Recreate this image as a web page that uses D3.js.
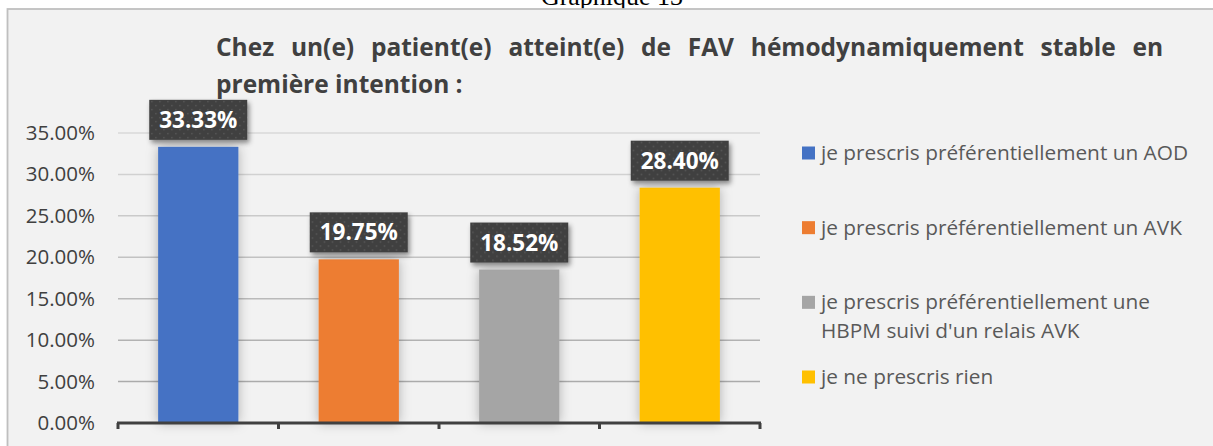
<!DOCTYPE html>
<html>
<head>
<meta charset="utf-8">
<script src="https://cdn.jsdelivr.net/npm/d3@7"></script>
<style>
    html, body { margin: 0; padding: 0; background: #ffffff; }
    svg { display: block; font-family: "Open Sans", sans-serif; }
</style>
</head>
<body>
<div class="chart"></div>
<script>
/* Graphique 13 - bar chart */

var categories = [
    "je prescris préférentiellement un AOD",
    "je prescris préférentiellement un AVK",
    "je prescris préférentiellement une HBPM suivi d'un relais AVK",
    "je ne prescris rien"
];
var values = [0.3333, 0.1975, 0.1852, 0.2840];
var colors = ["#4472c4", "#ed7d31", "#a5a5a5", "#ffc000"];
var yTicks = [0, 0.05, 0.10, 0.15, 0.20, 0.25, 0.30, 0.35];
var titleLines = [
    "Chez un(e) patient(e) atteint(e) de FAV hémodynamiquement stable en",
    "première intention :"
];
var captionText = "Graphique 13";

document.addEventListener("DOMContentLoaded", function () {
    //Width and height
    var w = 1213;
    var h = 446;

    var svg = d3.select(".chart")
        .append("svg")
        .attr("width", w)
        .attr("height", h);

    var defs = svg.append("defs");

    // soft glow around the bars
    var barShadow = defs.append("filter")
        .attr("id", "barShadow")
        .attr("x", "-40%").attr("y", "-10%")
        .attr("width", "180%").attr("height", "120%");
    barShadow.append("feDropShadow")
        .attr("dx", 0).attr("dy", 0)
        .attr("stdDeviation", 6)
        .attr("flood-color", "#000")
        .attr("flood-opacity", 0.28);

    // shadow of the label boxes
    var boxShadow = defs.append("filter")
        .attr("id", "boxShadow")
        .attr("x", "-20%").attr("y", "-30%")
        .attr("width", "150%").attr("height", "170%");
    boxShadow.append("feDropShadow")
        .attr("dx", 2).attr("dy", 3)
        .attr("stdDeviation", 2.5)
        .attr("flood-color", "#000")
        .attr("flood-opacity", 0.45);

    // dotted texture of the label boxes
    var dots = defs.append("pattern")
        .attr("id", "dots")
        .attr("patternUnits", "userSpaceOnUse")
        .attr("width", 8).attr("height", 8);
    dots.append("rect").attr("width", 8).attr("height", 8).attr("fill", "#404040");
    dots.append("rect").attr("x", 1).attr("y", 1).attr("width", 1.4).attr("height", 1.4).attr("fill", "#5c5c5c");
    dots.append("rect").attr("x", 5).attr("y", 5).attr("width", 1.4).attr("height", 1.4).attr("fill", "#5c5c5c");

    // caption above the frame (cut off)
    svg.append("text")
        .attr("x", 612)
        .attr("y", 5)
        .attr("text-anchor", "middle")
        .style("font-family", "'Liberation Serif', serif")
        .style("font-size", "26px")
        .attr("fill", "#000")
        .text(captionText);

    // chart frame
    svg.append("rect")
        .attr("x", 7.5)
        .attr("y", 9)
        .attr("width", w + 20)
        .attr("height", h + 20)
        .attr("fill", "#f2f2f2")
        .attr("stroke", "#bfbfbf")
        .attr("stroke-width", 1.8);

    //Scales
    var x = d3.scaleBand()
        .domain(categories)
        .range([118, 760])
        .paddingInner(0.5)
        .paddingOuter(0.25);

    var y = d3.scaleLinear()
        .domain([0, 0.35])
        .range([423, 133]);

    var gridColor = d3.scaleLinear()
        .domain([0, 0.35])
        .range(["#a3a3a3", "#d9d9d9"]);

    // gridlines
    svg.append("g")
        .selectAll("line")
        .data(yTicks.slice(1))
        .enter()
        .append("line")
        .attr("x1", 118)
        .attr("x2", 760)
        .attr("y1", function (d) { return y(d); })
        .attr("y2", function (d) { return y(d); })
        .attr("stroke", function (d) { return gridColor(d); })
        .attr("stroke-width", 1.5);

    // y axis labels
    var yAxis = d3.axisLeft(y)
        .tickValues(yTicks)
        .tickFormat(d3.format(".2%"))
        .tickSize(0)
        .tickPadding(0);
    var yG = svg.append("g")
        .attr("transform", "translate(95,0)")
        .call(yAxis);
    yG.select(".domain").remove();
    yG.selectAll("text")
        .attr("fill", "#404040")
        .style("font-family", "'Open Sans', sans-serif")
        .style("font-size", "20.5px");

    // bars
    svg.append("g")
        .selectAll("rect")
        .data(values)
        .enter()
        .append("rect")
        .attr("x", function (d, i) { return x(categories[i]); })
        .attr("y", function (d) { return y(d); })
        .attr("width", x.bandwidth())
        .attr("height", function (d) { return y(0) - y(d); })
        .attr("fill", function (d, i) { return colors[i]; })
        .attr("filter", "url(#barShadow)");

    // x axis
    var xG = svg.append("g").attr("transform", "translate(0," + y(0) + ")");
    xG.append("line")
        .attr("x1", 117).attr("x2", 761)
        .attr("stroke", "#404040")
        .attr("stroke-width", 3);
    var bounds = categories.map(function (c) { return x(c) - x.step() * 0.25; });
    bounds.push(760);
    xG.selectAll(".tick")
        .data(bounds)
        .enter()
        .append("line")
        .attr("class", "tick")
        .attr("x1", function (d) { return d; })
        .attr("x2", function (d) { return d; })
        .attr("y1", 0)
        .attr("y2", 6)
        .attr("stroke", "#404040")
        .attr("stroke-width", 3);

    // data labels
    var labels = svg.append("g")
        .selectAll("g")
        .data(values)
        .enter()
        .append("g")
        .attr("transform", function (d, i) {
            return "translate(" + (x(categories[i]) + x.bandwidth() / 2) + "," + (y(d) - 7) + ")";
        });
    labels.append("rect")
        .attr("x", -49)
        .attr("y", -40)
        .attr("width", 98)
        .attr("height", 40)
        .attr("fill", "url(#dots)")
        .attr("filter", "url(#boxShadow)");
    labels.append("text")
        .attr("y", -12)
        .attr("text-anchor", "middle")
        .attr("fill", "#ffffff")
        .style("font-weight", "bold")
        .style("font-size", "22.5px")
        .text(function (d) { return d3.format(".2%")(d); });

    // title, first line justified
    var titleG = svg.append("g")
        .attr("fill", "#404040")
        .style("font-weight", "bold")
        .style("font-size", "24.5px");
    var words = titleLines[0].split(" ");
    var wordNodes = titleG.selectAll("text.w")
        .data(words)
        .enter()
        .append("text")
        .attr("class", "w")
        .attr("y", 56)
        .text(function (d) { return d; });
    var widths = [];
    wordNodes.each(function () { widths.push(this.getComputedTextLength()); });
    var gap = (1163 - 216 - d3.sum(widths)) / (words.length - 1);
    var cx = 216;
    wordNodes.attr("x", function (d, i) {
        var px = cx;
        cx += widths[i] + gap;
        return px;
    });
    titleG.append("text")
        .attr("x", 216)
        .attr("y", 92.5)
        .text(titleLines[1]);

    // legend
    var legendY = d3.scaleLinear().domain([0, categories.length - 1]).range([153, 377]);
    var legend = svg.append("g")
        .selectAll("g")
        .data(categories)
        .enter()
        .append("g")
        .attr("transform", function (d, i) { return "translate(802," + legendY(i) + ")"; });
    legend.append("rect")
        .attr("x", 0)
        .attr("y", -6.5)
        .attr("width", 13)
        .attr("height", 13)
        .attr("fill", function (d, i) { return colors[i]; });
    legend.each(function (d) {
        var g = d3.select(this);
        var t = g.append("text")
            .attr("x", 19)
            .attr("y", 7)
            .attr("fill", "#595959")
            .style("font-size", "20.8px");
        var parts = d.split(" ");
        var line = [];
        var lineNo = 0;
        var tspan = t.append("tspan").attr("x", 19).attr("dy", 0);
        parts.forEach(function (word) {
            line.push(word);
            tspan.text(line.join(" "));
            if (tspan.node().getComputedTextLength() > 385 && line.length > 1) {
                line.pop();
                tspan.text(line.join(" "));
                line = [word];
                lineNo++;
                tspan = t.append("tspan").attr("x", 19).attr("dy", 28.5).text(word);
            }
        });
    });
});
</script>
</body>
</html>
